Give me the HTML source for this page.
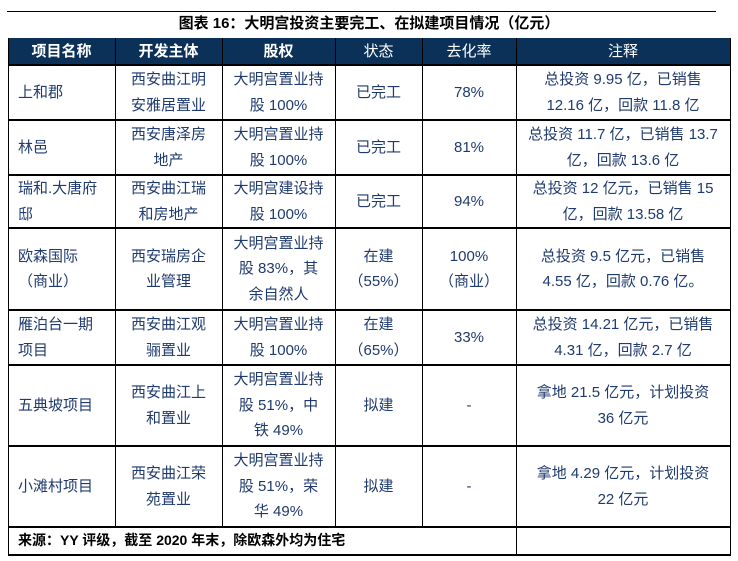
<!DOCTYPE html>
<html><head><meta charset="utf-8"><style>
body{margin:0;width:738px;height:561px;background:#fff;position:relative;overflow:hidden;font-family:"Liberation Sans","Noto Sans CJK SC",sans-serif;}
.c{position:absolute;display:flex;align-items:center;justify-content:center;text-align:center;color:#1f3a6e;font-size:15px;line-height:25.5px;}
.l{justify-content:flex-start;text-align:left;padding-left:10px;box-sizing:border-box;}
.h{color:#fff;font-size:15px;}
.hb{font-weight:bold;}
.hl{position:absolute;height:2px;background:#000;left:8px;width:723px;}
.vl{position:absolute;width:1px;background:#000;}
</style></head><body>
<div style="position:absolute;left:7px;top:11px;width:709px;height:1px;background:#000"></div>
<div style="position:absolute;left:0;width:738px;top:13px;height:22px;line-height:22px;text-align:center;font-weight:bold;font-size:15px;color:#000">图表 16：大明宫投资主要完工、在拟建项目情况（亿元）</div>
<div style="position:absolute;left:8px;top:38px;width:723px;height:27px;background:#0b3158"></div>

<div class="vl" style="left:8px;top:38px;height:517px"></div>
<div class="vl" style="left:115px;top:38px;height:489px"></div>
<div class="vl" style="left:222px;top:38px;height:489px"></div>
<div class="vl" style="left:335px;top:38px;height:489px"></div>
<div class="vl" style="left:422px;top:38px;height:489px"></div>
<div class="vl" style="left:516px;top:38px;height:517px"></div>
<div class="vl" style="left:730px;top:38px;height:517px"></div>

<div class="hl" style="top:64px"></div>
<div class="hl" style="top:119px"></div>
<div class="hl" style="top:174px"></div>
<div class="hl" style="top:227px"></div>
<div class="hl" style="top:309px"></div>
<div class="hl" style="top:364px"></div>
<div class="hl" style="top:445px"></div>
<div class="hl" style="top:526px"></div>
<div class="hl" style="top:554px"></div>

<div class="c h hb" style="left:8px;width:107px;top:38px;height:27px">项目名称</div>
<div class="c h hb" style="left:115px;width:107px;top:38px;height:27px">开发主体</div>
<div class="c h hb" style="left:222px;width:113px;top:38px;height:27px">股权</div>
<div class="c h" style="left:335px;width:87px;top:38px;height:27px">状态</div>
<div class="c h" style="left:422px;width:94px;top:38px;height:27px">去化率</div>
<div class="c h" style="left:516px;width:214px;top:38px;height:27px">注释</div>

<div class="c l" style="left:8px;width:107px;top:66px;height:53px">上和郡</div>
<div class="c" style="left:115px;width:107px;top:66px;height:53px">西安曲江明<br>安雅居置业</div>
<div class="c" style="left:222px;width:113px;top:66px;height:53px">大明宫置业持<br>股 100%</div>
<div class="c" style="left:335px;width:87px;top:66px;height:53px">已完工</div>
<div class="c" style="left:422px;width:94px;top:66px;height:53px">78%</div>
<div class="c" style="left:516px;width:214px;top:66px;height:53px">总投资 9.95 亿，已销售<br>12.16 亿，回款 11.8 亿</div>

<div class="c l" style="left:8px;width:107px;top:121px;height:53px">林邑</div>
<div class="c" style="left:115px;width:107px;top:121px;height:53px">西安唐泽房<br>地产</div>
<div class="c" style="left:222px;width:113px;top:121px;height:53px">大明宫置业持<br>股 100%</div>
<div class="c" style="left:335px;width:87px;top:121px;height:53px">已完工</div>
<div class="c" style="left:422px;width:94px;top:121px;height:53px">81%</div>
<div class="c" style="left:516px;width:214px;top:121px;height:53px">总投资 11.7 亿，已销售 13.7<br>亿，回款 13.6 亿</div>

<div class="c l" style="left:8px;width:107px;top:176px;height:51px">瑞和.大唐府<br>邸</div>
<div class="c" style="left:115px;width:107px;top:176px;height:51px">西安曲江瑞<br>和房地产</div>
<div class="c" style="left:222px;width:113px;top:176px;height:51px">大明宫建设持<br>股 100%</div>
<div class="c" style="left:335px;width:87px;top:176px;height:51px">已完工</div>
<div class="c" style="left:422px;width:94px;top:176px;height:51px">94%</div>
<div class="c" style="left:516px;width:214px;top:176px;height:51px">总投资 12 亿元，已销售 15<br>亿，回款 13.58 亿</div>

<div class="c l" style="left:8px;width:107px;top:229px;height:80px">欧森国际<br>（商业）</div>
<div class="c" style="left:115px;width:107px;top:229px;height:80px">西安瑞房企<br>业管理</div>
<div class="c" style="left:222px;width:113px;top:229px;height:80px">大明宫置业持<br>股 83%，其<br>余自然人</div>
<div class="c" style="left:335px;width:87px;top:229px;height:80px">在建<br>（55%）</div>
<div class="c" style="left:422px;width:94px;top:229px;height:80px">100%<br>（商业）</div>
<div class="c" style="left:516px;width:214px;top:229px;height:80px">总投资 9.5 亿元，已销售<br>4.55 亿，回款 0.76 亿。</div>

<div class="c l" style="left:8px;width:107px;top:311px;height:53px">雁泊台一期<br>项目</div>
<div class="c" style="left:115px;width:107px;top:311px;height:53px">西安曲江观<br>骊置业</div>
<div class="c" style="left:222px;width:113px;top:311px;height:53px">大明宫置业持<br>股 100%</div>
<div class="c" style="left:335px;width:87px;top:311px;height:53px">在建<br>（65%）</div>
<div class="c" style="left:422px;width:94px;top:311px;height:53px">33%</div>
<div class="c" style="left:516px;width:214px;top:311px;height:53px">总投资 14.21 亿元，已销售<br>4.31 亿，回款 2.7 亿</div>

<div class="c l" style="left:8px;width:107px;top:366px;height:79px">五典坡项目</div>
<div class="c" style="left:115px;width:107px;top:366px;height:79px">西安曲江上<br>和置业</div>
<div class="c" style="left:222px;width:113px;top:366px;height:79px">大明宫置业持<br>股 51%，中<br>铁 49%</div>
<div class="c" style="left:335px;width:87px;top:366px;height:79px">拟建</div>
<div class="c" style="left:422px;width:94px;top:366px;height:79px">-</div>
<div class="c" style="left:516px;width:214px;top:366px;height:79px">拿地 21.5 亿元，计划投资<br>36 亿元</div>

<div class="c l" style="left:8px;width:107px;top:447px;height:79px">小滩村项目</div>
<div class="c" style="left:115px;width:107px;top:447px;height:79px">西安曲江荣<br>苑置业</div>
<div class="c" style="left:222px;width:113px;top:447px;height:79px">大明宫置业持<br>股 51%，荣<br>华 49%</div>
<div class="c" style="left:335px;width:87px;top:447px;height:79px">拟建</div>
<div class="c" style="left:422px;width:94px;top:447px;height:79px">-</div>
<div class="c" style="left:516px;width:214px;top:447px;height:79px">拿地 4.29 亿元，计划投资<br>22 亿元</div>

<div class="c l" style="left:8px;width:508px;top:528px;height:26px;color:#000;font-weight:bold;font-size:14px;padding-left:10px">来源：YY 评级，截至 2020 年末，除欧森外均为住宅</div>
</body></html>
